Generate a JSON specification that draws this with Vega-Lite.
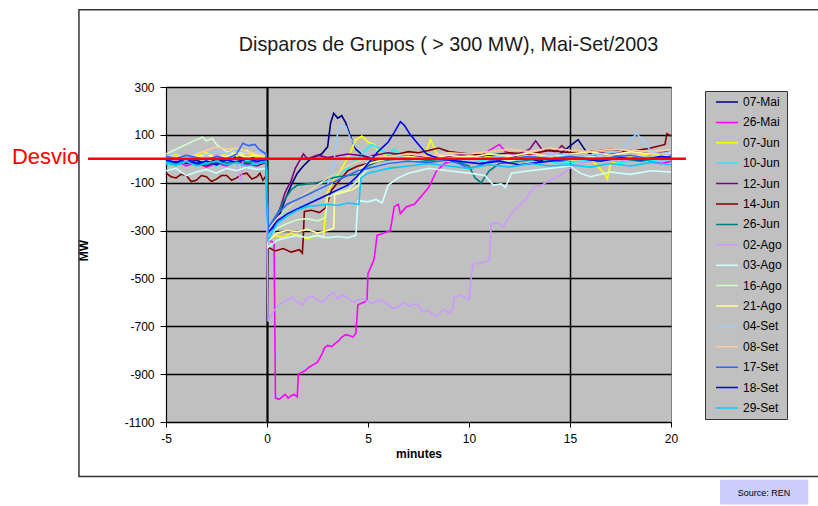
{
"$schema":"https://vega.github.io/schema/vega-lite/v6.json",
"width":505,"height":335,
"autosize":{"type":"none"},
"padding":{"left":166,"top":87,"right":147,"bottom":84},
"background":"white",
"config":{"font":"Liberation Sans","view":{"fill":"#C0C0C0","stroke":"#808080"}},
"title":{"text":"Disparos de Grupos ( > 300 MW), Mai-Set/2003","fontSize":19.8,"fontWeight":"normal","font":"Liberation Sans","color":"#1a1a1a","anchor":"middle","frame":"group","baseline":"alphabetic","offset":-62,"dx":30},
"encoding":{
"x":{"field":"t","type":"quantitative","scale":{"domain":[-5,20],"nice":false,"zero":false},"axis":{"title":"minutes","values":[-5,0,5,10,15,20],"labelExpr":"'' + datum.value","labelFontSize":12,"labelColor":"black","labelFlush":false,"labelOverlap":false,"titleFontSize":12,"titleFontWeight":"bold","titleColor":"black","domainColor":"black","domainWidth":1.2,"tickColor":"black","tickSize":5,"labelPadding":6,"titlePadding":4,"grid":true,"gridColor":"black","gridOpacity":{"condition":{"test":"datum.value === 0 || datum.value === 15","value":1},"value":0},"gridWidth":{"condition":{"test":"datum.value === 0","value":2.2},"value":1.5}}},
"y":{"field":"v","type":"quantitative","scale":{"domain":[-1100,300],"nice":false,"zero":false},"axis":{"title":"MW","values":[300,100,-100,-300,-500,-700,-900,-1100],"labelExpr":"'' + datum.value","labelFontSize":12,"labelColor":"black","labelFlush":false,"labelOverlap":false,"titleFontSize":12,"titleFontWeight":"bold","titleColor":"black","domainColor":"black","domainWidth":1.2,"tickColor":"black","tickSize":6,"labelPadding":6,"grid":true,"gridColor":"black","gridWidth":1.5,"titleX":-76,"titleY":163}}
},
"layer":[
{"data":{"values":[
{"d":"07-Mai","t":-5,"v":-10},{"d":"07-Mai","t":-4.5,"v":5},{"d":"07-Mai","t":-4,"v":-20},{"d":"07-Mai","t":-3.5,"v":-5},{"d":"07-Mai","t":-3,"v":-25},{"d":"07-Mai","t":-2.5,"v":0},{"d":"07-Mai","t":-2,"v":-15},{"d":"07-Mai","t":-1.5,"v":10},{"d":"07-Mai","t":-1,"v":-5},{"d":"07-Mai","t":-0.5,"v":15},{"d":"07-Mai","t":-0.05,"v":0},
{"d":"07-Mai","t":0.05,"v":-330},{"d":"07-Mai","t":0.3,"v":-290},{"d":"07-Mai","t":0.6,"v":-240},{"d":"07-Mai","t":0.9,"v":-170},{"d":"07-Mai","t":1.2,"v":-110},{"d":"07-Mai","t":1.5,"v":-60},{"d":"07-Mai","t":1.8,"v":-30},{"d":"07-Mai","t":2.1,"v":-5},{"d":"07-Mai","t":2.4,"v":10},{"d":"07-Mai","t":2.7,"v":20},{"d":"07-Mai","t":3.0,"v":50},{"d":"07-Mai","t":3.15,"v":150},{"d":"07-Mai","t":3.3,"v":190},{"d":"07-Mai","t":3.5,"v":170},{"d":"07-Mai","t":3.7,"v":180},{"d":"07-Mai","t":3.9,"v":150},{"d":"07-Mai","t":4.1,"v":100},{"d":"07-Mai","t":4.4,"v":40},{"d":"07-Mai","t":4.8,"v":10},{"d":"07-Mai","t":5.5,"v":-5},{"d":"07-Mai","t":6.5,"v":10},{"d":"07-Mai","t":7.5,"v":-10},{"d":"07-Mai","t":8.5,"v":5},{"d":"07-Mai","t":9.5,"v":-10},{"d":"07-Mai","t":10.5,"v":15},{"d":"07-Mai","t":11.5,"v":-5},{"d":"07-Mai","t":12.5,"v":10},{"d":"07-Mai","t":13.5,"v":-10},{"d":"07-Mai","t":14.5,"v":20},{"d":"07-Mai","t":15.1,"v":60},{"d":"07-Mai","t":15.4,"v":80},{"d":"07-Mai","t":15.8,"v":30},{"d":"07-Mai","t":16.5,"v":0},{"d":"07-Mai","t":17.5,"v":-10},{"d":"07-Mai","t":18.5,"v":10},{"d":"07-Mai","t":19.5,"v":0},{"d":"07-Mai","t":20,"v":15},
{"d":"26-Mai","t":-5,"v":-25},{"d":"26-Mai","t":-4.5,"v":-10},{"d":"26-Mai","t":-4,"v":-30},{"d":"26-Mai","t":-3.5,"v":-15},{"d":"26-Mai","t":-3,"v":-35},{"d":"26-Mai","t":-2.5,"v":-20},{"d":"26-Mai","t":-2,"v":-30},{"d":"26-Mai","t":-1.5,"v":-10},{"d":"26-Mai","t":-1,"v":-25},{"d":"26-Mai","t":-0.5,"v":-15},{"d":"26-Mai","t":-0.05,"v":-20},
{"d":"26-Mai","t":0.05,"v":-340},{"d":"26-Mai","t":0.35,"v":-350},{"d":"26-Mai","t":0.42,"v":-1000},{"d":"26-Mai","t":0.6,"v":-1005},{"d":"26-Mai","t":0.75,"v":-995},{"d":"26-Mai","t":0.9,"v":-985},{"d":"26-Mai","t":1.05,"v":-1000},{"d":"26-Mai","t":1.2,"v":-990},{"d":"26-Mai","t":1.35,"v":-985},{"d":"26-Mai","t":1.5,"v":-995},{"d":"26-Mai","t":1.55,"v":-900},{"d":"26-Mai","t":1.9,"v":-885},{"d":"26-Mai","t":2.1,"v":-870},{"d":"26-Mai","t":2.3,"v":-860},{"d":"26-Mai","t":2.5,"v":-850},{"d":"26-Mai","t":2.7,"v":-820},{"d":"26-Mai","t":2.85,"v":-790},{"d":"26-Mai","t":3.0,"v":-780},{"d":"26-Mai","t":3.2,"v":-785},{"d":"26-Mai","t":3.4,"v":-770},{"d":"26-Mai","t":3.55,"v":-760},{"d":"26-Mai","t":3.7,"v":-745},{"d":"26-Mai","t":3.9,"v":-735},{"d":"26-Mai","t":4.1,"v":-740},{"d":"26-Mai","t":4.25,"v":-745},{"d":"26-Mai","t":4.4,"v":-730},{"d":"26-Mai","t":4.5,"v":-610},{"d":"26-Mai","t":4.8,"v":-600},{"d":"26-Mai","t":4.95,"v":-590},{"d":"26-Mai","t":5.0,"v":-480},{"d":"26-Mai","t":5.3,"v":-420},{"d":"26-Mai","t":5.45,"v":-320},{"d":"26-Mai","t":5.8,"v":-310},{"d":"26-Mai","t":6.1,"v":-300},{"d":"26-Mai","t":6.3,"v":-200},{"d":"26-Mai","t":6.5,"v":-190},{"d":"26-Mai","t":6.6,"v":-230},{"d":"26-Mai","t":6.9,"v":-200},{"d":"26-Mai","t":7.3,"v":-190},{"d":"26-Mai","t":7.7,"v":-150},{"d":"26-Mai","t":8.0,"v":-120},{"d":"26-Mai","t":8.4,"v":-50},{"d":"26-Mai","t":8.8,"v":-20},{"d":"26-Mai","t":9.5,"v":0},{"d":"26-Mai","t":10.5,"v":10},{"d":"26-Mai","t":11.5,"v":60},{"d":"26-Mai","t":11.8,"v":30},{"d":"26-Mai","t":12.5,"v":10},{"d":"26-Mai","t":13.5,"v":20},{"d":"26-Mai","t":14.5,"v":0},{"d":"26-Mai","t":15.5,"v":10},{"d":"26-Mai","t":16.5,"v":20},{"d":"26-Mai","t":17.5,"v":10},{"d":"26-Mai","t":18.5,"v":0},{"d":"26-Mai","t":19.5,"v":-20},{"d":"26-Mai","t":20,"v":-10},
{"d":"07-Jun","t":-5,"v":10},{"d":"07-Jun","t":-4.5,"v":20},{"d":"07-Jun","t":-4,"v":0},{"d":"07-Jun","t":-3.5,"v":15},{"d":"07-Jun","t":-3,"v":25},{"d":"07-Jun","t":-2.5,"v":5},{"d":"07-Jun","t":-2,"v":20},{"d":"07-Jun","t":-1.7,"v":40},{"d":"07-Jun","t":-1.5,"v":10},{"d":"07-Jun","t":-1,"v":25},{"d":"07-Jun","t":-0.5,"v":10},{"d":"07-Jun","t":-0.05,"v":5},
{"d":"07-Jun","t":0.05,"v":-340},{"d":"07-Jun","t":0.4,"v":-320},{"d":"07-Jun","t":0.8,"v":-330},{"d":"07-Jun","t":1.2,"v":-310},{"d":"07-Jun","t":1.6,"v":-325},{"d":"07-Jun","t":2.0,"v":-335},{"d":"07-Jun","t":2.4,"v":-320},{"d":"07-Jun","t":2.8,"v":-330},{"d":"07-Jun","t":2.95,"v":-150},{"d":"07-Jun","t":3.3,"v":-90},{"d":"07-Jun","t":3.7,"v":-40},{"d":"07-Jun","t":4.1,"v":20},{"d":"07-Jun","t":4.4,"v":80},{"d":"07-Jun","t":4.7,"v":95},{"d":"07-Jun","t":5.0,"v":70},{"d":"07-Jun","t":5.3,"v":60},{"d":"07-Jun","t":5.6,"v":20},{"d":"07-Jun","t":6.2,"v":10},{"d":"07-Jun","t":7.0,"v":0},{"d":"07-Jun","t":7.8,"v":10},{"d":"07-Jun","t":8.1,"v":80},{"d":"07-Jun","t":8.4,"v":20},{"d":"07-Jun","t":9,"v":5},{"d":"07-Jun","t":10,"v":-5},{"d":"07-Jun","t":11,"v":10},{"d":"07-Jun","t":12,"v":0},{"d":"07-Jun","t":13,"v":15},{"d":"07-Jun","t":14,"v":5},{"d":"07-Jun","t":15,"v":-5},{"d":"07-Jun","t":16,"v":0},{"d":"07-Jun","t":16.7,"v":-60},{"d":"07-Jun","t":16.85,"v":-85},{"d":"07-Jun","t":17,"v":-20},{"d":"07-Jun","t":18,"v":10},{"d":"07-Jun","t":19,"v":20},{"d":"07-Jun","t":20,"v":10},
{"d":"10-Jun","t":-5,"v":-20},{"d":"10-Jun","t":-4.5,"v":-30},{"d":"10-Jun","t":-4,"v":-10},{"d":"10-Jun","t":-3.5,"v":-25},{"d":"10-Jun","t":-3,"v":-15},{"d":"10-Jun","t":-2.5,"v":-30},{"d":"10-Jun","t":-2,"v":-10},{"d":"10-Jun","t":-1.5,"v":-20},{"d":"10-Jun","t":-1,"v":-5},{"d":"10-Jun","t":-0.5,"v":-25},{"d":"10-Jun","t":-0.05,"v":-15},
{"d":"10-Jun","t":0.05,"v":-300},{"d":"10-Jun","t":0.5,"v":-250},{"d":"10-Jun","t":1.0,"v":-210},{"d":"10-Jun","t":1.5,"v":-170},{"d":"10-Jun","t":2.0,"v":-140},{"d":"10-Jun","t":2.5,"v":-110},{"d":"10-Jun","t":3.0,"v":-90},{"d":"10-Jun","t":3.5,"v":-60},{"d":"10-Jun","t":4.0,"v":-40},{"d":"10-Jun","t":4.5,"v":0},{"d":"10-Jun","t":4.8,"v":30},{"d":"10-Jun","t":5.2,"v":60},{"d":"10-Jun","t":5.6,"v":40},{"d":"10-Jun","t":6.0,"v":20},{"d":"10-Jun","t":6.3,"v":40},{"d":"10-Jun","t":6.7,"v":10},{"d":"10-Jun","t":7.5,"v":-10},{"d":"10-Jun","t":8.5,"v":0},{"d":"10-Jun","t":9.5,"v":-20},{"d":"10-Jun","t":10.5,"v":-10},{"d":"10-Jun","t":11.5,"v":10},{"d":"10-Jun","t":12.5,"v":-10},{"d":"10-Jun","t":13.5,"v":0},{"d":"10-Jun","t":14.5,"v":-20},{"d":"10-Jun","t":15.5,"v":-10},{"d":"10-Jun","t":16.5,"v":0},{"d":"10-Jun","t":17.5,"v":-15},{"d":"10-Jun","t":18.5,"v":-5},{"d":"10-Jun","t":19.5,"v":-10},{"d":"10-Jun","t":20,"v":0},
{"d":"12-Jun","t":-5,"v":-15},{"d":"12-Jun","t":-4.5,"v":-25},{"d":"12-Jun","t":-4,"v":-10},{"d":"12-Jun","t":-3.5,"v":-20},{"d":"12-Jun","t":-3,"v":-30},{"d":"12-Jun","t":-2.5,"v":-15},{"d":"12-Jun","t":-2,"v":-25},{"d":"12-Jun","t":-1.5,"v":-10},{"d":"12-Jun","t":-1,"v":-20},{"d":"12-Jun","t":-0.5,"v":-30},{"d":"12-Jun","t":-0.05,"v":-15},
{"d":"12-Jun","t":0.05,"v":-340},{"d":"12-Jun","t":0.3,"v":-280},{"d":"12-Jun","t":0.6,"v":-220},{"d":"12-Jun","t":0.9,"v":-140},{"d":"12-Jun","t":1.2,"v":-90},{"d":"12-Jun","t":1.4,"v":-40},{"d":"12-Jun","t":1.6,"v":-10},{"d":"12-Jun","t":1.8,"v":20},{"d":"12-Jun","t":2.0,"v":0},{"d":"12-Jun","t":2.5,"v":15},{"d":"12-Jun","t":3.0,"v":5},{"d":"12-Jun","t":4,"v":20},{"d":"12-Jun","t":5,"v":10},{"d":"12-Jun","t":6,"v":25},{"d":"12-Jun","t":7,"v":15},{"d":"12-Jun","t":8,"v":5},{"d":"12-Jun","t":9,"v":10},{"d":"12-Jun","t":10,"v":20},{"d":"12-Jun","t":11,"v":15},{"d":"12-Jun","t":12,"v":5},{"d":"12-Jun","t":13,"v":40},{"d":"12-Jun","t":13.3,"v":75},{"d":"12-Jun","t":13.6,"v":40},{"d":"12-Jun","t":14.3,"v":30},{"d":"12-Jun","t":14.6,"v":55},{"d":"12-Jun","t":15,"v":20},{"d":"12-Jun","t":16,"v":30},{"d":"12-Jun","t":17,"v":20},{"d":"12-Jun","t":18,"v":35},{"d":"12-Jun","t":19,"v":20},{"d":"12-Jun","t":20,"v":30},
{"d":"14-Jun","t":-5,"v":-60},{"d":"14-Jun","t":-4.75,"v":-75},{"d":"14-Jun","t":-4.5,"v":-80},{"d":"14-Jun","t":-4.25,"v":-65},{"d":"14-Jun","t":-4,"v":-70},{"d":"14-Jun","t":-3.75,"v":-95},{"d":"14-Jun","t":-3.5,"v":-90},{"d":"14-Jun","t":-3.25,"v":-70},{"d":"14-Jun","t":-3,"v":-75},{"d":"14-Jun","t":-2.75,"v":-95},{"d":"14-Jun","t":-2.5,"v":-85},{"d":"14-Jun","t":-2.25,"v":-70},{"d":"14-Jun","t":-2,"v":-70},{"d":"14-Jun","t":-1.75,"v":-90},{"d":"14-Jun","t":-1.5,"v":-80},{"d":"14-Jun","t":-1.25,"v":-65},{"d":"14-Jun","t":-1,"v":-60},{"d":"14-Jun","t":-0.75,"v":-85},{"d":"14-Jun","t":-0.5,"v":-75},{"d":"14-Jun","t":-0.35,"v":-60},{"d":"14-Jun","t":-0.2,"v":-90},{"d":"14-Jun","t":-0.05,"v":-70},
{"d":"14-Jun","t":0.05,"v":-370},{"d":"14-Jun","t":0.4,"v":-385},{"d":"14-Jun","t":0.8,"v":-375},{"d":"14-Jun","t":1.2,"v":-390},{"d":"14-Jun","t":1.6,"v":-380},{"d":"14-Jun","t":1.75,"v":-395},{"d":"14-Jun","t":1.8,"v":-320},{"d":"14-Jun","t":1.85,"v":-220},{"d":"14-Jun","t":2.2,"v":-215},{"d":"14-Jun","t":2.6,"v":-225},{"d":"14-Jun","t":2.9,"v":-205},{"d":"14-Jun","t":3.2,"v":-130},{"d":"14-Jun","t":3.6,"v":-90},{"d":"14-Jun","t":4.0,"v":-50},{"d":"14-Jun","t":4.5,"v":-30},{"d":"14-Jun","t":5,"v":-20},{"d":"14-Jun","t":5.5,"v":0},{"d":"14-Jun","t":6,"v":10},{"d":"14-Jun","t":6.5,"v":20},{"d":"14-Jun","t":7,"v":30},{"d":"14-Jun","t":7.5,"v":25},{"d":"14-Jun","t":8,"v":35},{"d":"14-Jun","t":8.5,"v":45},{"d":"14-Jun","t":9,"v":30},{"d":"14-Jun","t":10,"v":20},{"d":"14-Jun","t":11,"v":15},{"d":"14-Jun","t":12,"v":25},{"d":"14-Jun","t":13,"v":20},{"d":"14-Jun","t":14,"v":35},{"d":"14-Jun","t":15,"v":25},{"d":"14-Jun","t":16,"v":30},{"d":"14-Jun","t":17,"v":40},{"d":"14-Jun","t":18,"v":30},{"d":"14-Jun","t":19,"v":45},{"d":"14-Jun","t":19.7,"v":60},{"d":"14-Jun","t":19.8,"v":105},{"d":"14-Jun","t":20,"v":95},
{"d":"26-Jun","t":-5,"v":-10},{"d":"26-Jun","t":-4.5,"v":-20},{"d":"26-Jun","t":-4,"v":-5},{"d":"26-Jun","t":-3.5,"v":-15},{"d":"26-Jun","t":-3,"v":-25},{"d":"26-Jun","t":-2.5,"v":-10},{"d":"26-Jun","t":-2,"v":-20},{"d":"26-Jun","t":-1.5,"v":-5},{"d":"26-Jun","t":-1,"v":-15},{"d":"26-Jun","t":-0.5,"v":-10},{"d":"26-Jun","t":-0.05,"v":-20},
{"d":"26-Jun","t":0.05,"v":-330},{"d":"26-Jun","t":0.4,"v":-250},{"d":"26-Jun","t":0.8,"v":-180},{"d":"26-Jun","t":1.2,"v":-130},{"d":"26-Jun","t":1.5,"v":-110},{"d":"26-Jun","t":2.0,"v":-105},{"d":"26-Jun","t":2.5,"v":-100},{"d":"26-Jun","t":3.0,"v":-85},{"d":"26-Jun","t":3.5,"v":-75},{"d":"26-Jun","t":4.0,"v":-70},{"d":"26-Jun","t":4.5,"v":-65},{"d":"26-Jun","t":5.0,"v":-30},{"d":"26-Jun","t":5.5,"v":-10},{"d":"26-Jun","t":6.5,"v":0},{"d":"26-Jun","t":7.5,"v":-10},{"d":"26-Jun","t":8.5,"v":-5},{"d":"26-Jun","t":9.5,"v":-15},{"d":"26-Jun","t":10.0,"v":-30},{"d":"26-Jun","t":10.3,"v":-80},{"d":"26-Jun","t":10.6,"v":-100},{"d":"26-Jun","t":11.0,"v":-50},{"d":"26-Jun","t":11.5,"v":-20},{"d":"26-Jun","t":12.5,"v":-10},{"d":"26-Jun","t":13.5,"v":0},{"d":"26-Jun","t":14.5,"v":-10},{"d":"26-Jun","t":15.5,"v":5},{"d":"26-Jun","t":16.5,"v":-5},{"d":"26-Jun","t":17.5,"v":0},{"d":"26-Jun","t":18.5,"v":-10},{"d":"26-Jun","t":19.5,"v":5},{"d":"26-Jun","t":20,"v":0},
{"d":"02-Ago","t":-5,"v":0},{"d":"02-Ago","t":-4.5,"v":10},{"d":"02-Ago","t":-4,"v":-10},{"d":"02-Ago","t":-3.5,"v":5},{"d":"02-Ago","t":-3,"v":-5},{"d":"02-Ago","t":-2.5,"v":15},{"d":"02-Ago","t":-2,"v":0},{"d":"02-Ago","t":-1.5,"v":-10},{"d":"02-Ago","t":-1.3,"v":-100},{"d":"02-Ago","t":-1.2,"v":-10},{"d":"02-Ago","t":-1,"v":5},{"d":"02-Ago","t":-0.5,"v":-5},{"d":"02-Ago","t":-0.05,"v":0},
{"d":"02-Ago","t":0.05,"v":-680},{"d":"02-Ago","t":0.3,"v":-640},{"d":"02-Ago","t":0.6,"v":-610},{"d":"02-Ago","t":0.8,"v":-600},{"d":"02-Ago","t":1.0,"v":-590},{"d":"02-Ago","t":1.25,"v":-580},{"d":"02-Ago","t":1.5,"v":-600},{"d":"02-Ago","t":1.75,"v":-610},{"d":"02-Ago","t":2.0,"v":-580},{"d":"02-Ago","t":2.25,"v":-575},{"d":"02-Ago","t":2.5,"v":-590},{"d":"02-Ago","t":2.75,"v":-600},{"d":"02-Ago","t":3.0,"v":-575},{"d":"02-Ago","t":3.3,"v":-560},{"d":"02-Ago","t":3.5,"v":-585},{"d":"02-Ago","t":3.75,"v":-570},{"d":"02-Ago","t":4.0,"v":-580},{"d":"02-Ago","t":4.25,"v":-600},{"d":"02-Ago","t":4.5,"v":-590},{"d":"02-Ago","t":4.75,"v":-585},{"d":"02-Ago","t":5.0,"v":-595},{"d":"02-Ago","t":5.25,"v":-605},{"d":"02-Ago","t":5.5,"v":-590},{"d":"02-Ago","t":5.75,"v":-595},{"d":"02-Ago","t":6.0,"v":-610},{"d":"02-Ago","t":6.25,"v":-625},{"d":"02-Ago","t":6.5,"v":-620},{"d":"02-Ago","t":6.75,"v":-600},{"d":"02-Ago","t":7.0,"v":-615},{"d":"02-Ago","t":7.4,"v":-605},{"d":"02-Ago","t":7.7,"v":-640},{"d":"02-Ago","t":8.0,"v":-635},{"d":"02-Ago","t":8.2,"v":-650},{"d":"02-Ago","t":8.4,"v":-660},{"d":"02-Ago","t":8.6,"v":-640},{"d":"02-Ago","t":8.8,"v":-630},{"d":"02-Ago","t":9.0,"v":-645},{"d":"02-Ago","t":9.2,"v":-630},{"d":"02-Ago","t":9.25,"v":-580},{"d":"02-Ago","t":9.6,"v":-570},{"d":"02-Ago","t":10.0,"v":-590},{"d":"02-Ago","t":10.1,"v":-500},{"d":"02-Ago","t":10.2,"v":-440},{"d":"02-Ago","t":10.6,"v":-435},{"d":"02-Ago","t":11.0,"v":-425},{"d":"02-Ago","t":11.1,"v":-270},{"d":"02-Ago","t":11.5,"v":-270},{"d":"02-Ago","t":11.7,"v":-285},{"d":"02-Ago","t":12.0,"v":-240},{"d":"02-Ago","t":12.4,"v":-200},{"d":"02-Ago","t":12.8,"v":-170},{"d":"02-Ago","t":13.2,"v":-120},{"d":"02-Ago","t":13.6,"v":-110},{"d":"02-Ago","t":14.0,"v":-90},{"d":"02-Ago","t":14.5,"v":-70},{"d":"02-Ago","t":15.0,"v":-40},{"d":"02-Ago","t":15.5,"v":-20},{"d":"02-Ago","t":16.5,"v":0},{"d":"02-Ago","t":17.5,"v":-10},{"d":"02-Ago","t":18.5,"v":5},{"d":"02-Ago","t":19.5,"v":-5},{"d":"02-Ago","t":20,"v":0},
{"d":"03-Ago","t":-5,"v":-50},{"d":"03-Ago","t":-4.5,"v":-40},{"d":"03-Ago","t":-4,"v":-70},{"d":"03-Ago","t":-3.5,"v":-55},{"d":"03-Ago","t":-3,"v":-45},{"d":"03-Ago","t":-2.5,"v":-60},{"d":"03-Ago","t":-2,"v":-40},{"d":"03-Ago","t":-1.5,"v":-50},{"d":"03-Ago","t":-1,"v":-35},{"d":"03-Ago","t":-0.5,"v":-45},{"d":"03-Ago","t":-0.05,"v":-40},
{"d":"03-Ago","t":0.05,"v":-370},{"d":"03-Ago","t":0.5,"v":-340},{"d":"03-Ago","t":1.0,"v":-330},{"d":"03-Ago","t":1.5,"v":-320},{"d":"03-Ago","t":2.0,"v":-330},{"d":"03-Ago","t":2.5,"v":-320},{"d":"03-Ago","t":3.0,"v":-330},{"d":"03-Ago","t":3.5,"v":-325},{"d":"03-Ago","t":4.0,"v":-330},{"d":"03-Ago","t":4.4,"v":-320},{"d":"03-Ago","t":4.5,"v":-175},{"d":"03-Ago","t":5.0,"v":-180},{"d":"03-Ago","t":5.4,"v":-170},{"d":"03-Ago","t":5.7,"v":-185},{"d":"03-Ago","t":6.0,"v":-110},{"d":"03-Ago","t":6.5,"v":-80},{"d":"03-Ago","t":7,"v":-60},{"d":"03-Ago","t":8,"v":-40},{"d":"03-Ago","t":9,"v":-50},{"d":"03-Ago","t":10,"v":-60},{"d":"03-Ago","t":10.8,"v":-70},{"d":"03-Ago","t":11.2,"v":-110},{"d":"03-Ago","t":11.6,"v":-105},{"d":"03-Ago","t":11.8,"v":-120},{"d":"03-Ago","t":12.1,"v":-60},{"d":"03-Ago","t":13,"v":-50},{"d":"03-Ago","t":14,"v":-40},{"d":"03-Ago","t":15,"v":-30},{"d":"03-Ago","t":15.5,"v":-60},{"d":"03-Ago","t":16,"v":-75},{"d":"03-Ago","t":17,"v":-55},{"d":"03-Ago","t":18,"v":-65},{"d":"03-Ago","t":19,"v":-50},{"d":"03-Ago","t":20,"v":-55},
{"d":"16-Ago","t":-5,"v":20},{"d":"16-Ago","t":-4.5,"v":40},{"d":"16-Ago","t":-4,"v":60},{"d":"16-Ago","t":-3.5,"v":80},{"d":"16-Ago","t":-3.2,"v":90},{"d":"16-Ago","t":-3,"v":75},{"d":"16-Ago","t":-2.7,"v":85},{"d":"16-Ago","t":-2.5,"v":60},{"d":"16-Ago","t":-2,"v":30},{"d":"16-Ago","t":-1.5,"v":20},{"d":"16-Ago","t":-1,"v":35},{"d":"16-Ago","t":-0.5,"v":15},{"d":"16-Ago","t":-0.05,"v":20},
{"d":"16-Ago","t":0.05,"v":-330},{"d":"16-Ago","t":0.5,"v":-290},{"d":"16-Ago","t":1.0,"v":-270},{"d":"16-Ago","t":1.5,"v":-255},{"d":"16-Ago","t":2.0,"v":-250},{"d":"16-Ago","t":2.5,"v":-260},{"d":"16-Ago","t":2.9,"v":-245},{"d":"16-Ago","t":3.0,"v":-160},{"d":"16-Ago","t":3.5,"v":-140},{"d":"16-Ago","t":4.0,"v":-130},{"d":"16-Ago","t":4.5,"v":-90},{"d":"16-Ago","t":5,"v":-40},{"d":"16-Ago","t":6,"v":-20},{"d":"16-Ago","t":7,"v":-10},{"d":"16-Ago","t":8,"v":0},{"d":"16-Ago","t":9,"v":-10},{"d":"16-Ago","t":10,"v":10},{"d":"16-Ago","t":11,"v":0},{"d":"16-Ago","t":12,"v":-10},{"d":"16-Ago","t":13,"v":10},{"d":"16-Ago","t":14,"v":0},{"d":"16-Ago","t":15,"v":-5},{"d":"16-Ago","t":16,"v":10},{"d":"16-Ago","t":17,"v":0},{"d":"16-Ago","t":18,"v":15},{"d":"16-Ago","t":19,"v":5},{"d":"16-Ago","t":20,"v":10},
{"d":"21-Ago","t":-5,"v":10},{"d":"21-Ago","t":-4.5,"v":0},{"d":"21-Ago","t":-4,"v":15},{"d":"21-Ago","t":-3.5,"v":5},{"d":"21-Ago","t":-3,"v":20},{"d":"21-Ago","t":-2.5,"v":0},{"d":"21-Ago","t":-2,"v":10},{"d":"21-Ago","t":-1.5,"v":25},{"d":"21-Ago","t":-1,"v":5},{"d":"21-Ago","t":-0.5,"v":15},{"d":"21-Ago","t":-0.05,"v":10},
{"d":"21-Ago","t":0.05,"v":-345},{"d":"21-Ago","t":0.5,"v":-310},{"d":"21-Ago","t":1.0,"v":-300},{"d":"21-Ago","t":1.5,"v":-305},{"d":"21-Ago","t":2.0,"v":-295},{"d":"21-Ago","t":2.5,"v":-310},{"d":"21-Ago","t":3.0,"v":-300},{"d":"21-Ago","t":3.3,"v":-290},{"d":"21-Ago","t":3.35,"v":-150},{"d":"21-Ago","t":3.8,"v":-140},{"d":"21-Ago","t":4.2,"v":-130},{"d":"21-Ago","t":4.55,"v":-110},{"d":"21-Ago","t":4.6,"v":-40},{"d":"21-Ago","t":5.0,"v":-20},{"d":"21-Ago","t":6,"v":0},{"d":"21-Ago","t":7,"v":10},{"d":"21-Ago","t":8,"v":0},{"d":"21-Ago","t":9,"v":15},{"d":"21-Ago","t":10,"v":5},{"d":"21-Ago","t":11,"v":20},{"d":"21-Ago","t":12,"v":10},{"d":"21-Ago","t":13,"v":25},{"d":"21-Ago","t":14,"v":10},{"d":"21-Ago","t":15,"v":20},{"d":"21-Ago","t":16,"v":30},{"d":"21-Ago","t":17,"v":15},{"d":"21-Ago","t":18,"v":30},{"d":"21-Ago","t":19,"v":20},{"d":"21-Ago","t":20,"v":25},
{"d":"04-Set","t":-5,"v":10},{"d":"04-Set","t":-4.5,"v":25},{"d":"04-Set","t":-4,"v":5},{"d":"04-Set","t":-3.5,"v":30},{"d":"04-Set","t":-3,"v":15},{"d":"04-Set","t":-2.5,"v":35},{"d":"04-Set","t":-2,"v":20},{"d":"04-Set","t":-1.5,"v":40},{"d":"04-Set","t":-1,"v":25},{"d":"04-Set","t":-0.5,"v":30},{"d":"04-Set","t":-0.05,"v":15},
{"d":"04-Set","t":0.05,"v":-320},{"d":"04-Set","t":0.5,"v":-280},{"d":"04-Set","t":1.0,"v":-240},{"d":"04-Set","t":1.5,"v":-210},{"d":"04-Set","t":2.0,"v":-180},{"d":"04-Set","t":2.5,"v":-150},{"d":"04-Set","t":3.0,"v":-110},{"d":"04-Set","t":3.3,"v":-20},{"d":"04-Set","t":3.5,"v":110},{"d":"04-Set","t":3.7,"v":140},{"d":"04-Set","t":3.9,"v":135},{"d":"04-Set","t":4.1,"v":90},{"d":"04-Set","t":4.4,"v":50},{"d":"04-Set","t":4.8,"v":20},{"d":"04-Set","t":5.5,"v":0},{"d":"04-Set","t":6.5,"v":10},{"d":"04-Set","t":7.5,"v":-5},{"d":"04-Set","t":8.5,"v":5},{"d":"04-Set","t":9.5,"v":-10},{"d":"04-Set","t":10.5,"v":0},{"d":"04-Set","t":11.5,"v":10},{"d":"04-Set","t":12.5,"v":-5},{"d":"04-Set","t":13.5,"v":5},{"d":"04-Set","t":14.5,"v":20},{"d":"04-Set","t":15.5,"v":10},{"d":"04-Set","t":16.5,"v":20},{"d":"04-Set","t":17.5,"v":30},{"d":"04-Set","t":18.0,"v":80},{"d":"04-Set","t":18.3,"v":105},{"d":"04-Set","t":18.7,"v":70},{"d":"04-Set","t":19.0,"v":30},{"d":"04-Set","t":19.5,"v":20},{"d":"04-Set","t":20,"v":30},
{"d":"08-Set","t":-5,"v":0},{"d":"08-Set","t":-4.5,"v":10},{"d":"08-Set","t":-4,"v":-5},{"d":"08-Set","t":-3.5,"v":20},{"d":"08-Set","t":-3,"v":35},{"d":"08-Set","t":-2.5,"v":50},{"d":"08-Set","t":-2,"v":40},{"d":"08-Set","t":-1.5,"v":45},{"d":"08-Set","t":-1,"v":30},{"d":"08-Set","t":-0.5,"v":20},{"d":"08-Set","t":-0.05,"v":10},
{"d":"08-Set","t":0.05,"v":-300},{"d":"08-Set","t":0.5,"v":-250},{"d":"08-Set","t":1.0,"v":-210},{"d":"08-Set","t":1.5,"v":-170},{"d":"08-Set","t":2.0,"v":-140},{"d":"08-Set","t":2.5,"v":-110},{"d":"08-Set","t":3.0,"v":-80},{"d":"08-Set","t":3.5,"v":-60},{"d":"08-Set","t":4.0,"v":-30},{"d":"08-Set","t":4.5,"v":-10},{"d":"08-Set","t":5.0,"v":0},{"d":"08-Set","t":6,"v":10},{"d":"08-Set","t":7,"v":20},{"d":"08-Set","t":8,"v":10},{"d":"08-Set","t":9,"v":25},{"d":"08-Set","t":10,"v":20},{"d":"08-Set","t":11,"v":30},{"d":"08-Set","t":12,"v":40},{"d":"08-Set","t":13,"v":30},{"d":"08-Set","t":14,"v":45},{"d":"08-Set","t":15,"v":35},{"d":"08-Set","t":16,"v":30},{"d":"08-Set","t":17,"v":40},{"d":"08-Set","t":18,"v":35},{"d":"08-Set","t":19,"v":30},{"d":"08-Set","t":20,"v":40},
{"d":"17-Set","t":-5,"v":10},{"d":"17-Set","t":-4.5,"v":0},{"d":"17-Set","t":-4,"v":15},{"d":"17-Set","t":-3.5,"v":5},{"d":"17-Set","t":-3,"v":-5},{"d":"17-Set","t":-2.5,"v":10},{"d":"17-Set","t":-2,"v":0},{"d":"17-Set","t":-1.5,"v":20},{"d":"17-Set","t":-1.2,"v":65},{"d":"17-Set","t":-0.9,"v":55},{"d":"17-Set","t":-0.6,"v":60},{"d":"17-Set","t":-0.4,"v":40},{"d":"17-Set","t":-0.05,"v":20},
{"d":"17-Set","t":0.05,"v":-290},{"d":"17-Set","t":0.5,"v":-230},{"d":"17-Set","t":1.0,"v":-190},{"d":"17-Set","t":1.5,"v":-170},{"d":"17-Set","t":2.0,"v":-150},{"d":"17-Set","t":2.5,"v":-130},{"d":"17-Set","t":3.0,"v":-110},{"d":"17-Set","t":3.5,"v":-90},{"d":"17-Set","t":4.0,"v":-70},{"d":"17-Set","t":4.5,"v":-50},{"d":"17-Set","t":5.0,"v":-40},{"d":"17-Set","t":5.5,"v":-30},{"d":"17-Set","t":6,"v":-20},{"d":"17-Set","t":7,"v":-10},{"d":"17-Set","t":8,"v":-15},{"d":"17-Set","t":9,"v":-5},{"d":"17-Set","t":9.5,"v":-20},{"d":"17-Set","t":10,"v":-40},{"d":"17-Set","t":10.5,"v":-30},{"d":"17-Set","t":11,"v":-10},{"d":"17-Set","t":12,"v":0},{"d":"17-Set","t":13,"v":10},{"d":"17-Set","t":14,"v":0},{"d":"17-Set","t":15,"v":10},{"d":"17-Set","t":16,"v":0},{"d":"17-Set","t":17,"v":5},{"d":"17-Set","t":18,"v":15},{"d":"17-Set","t":19,"v":0},{"d":"17-Set","t":20,"v":10},
{"d":"18-Set","t":-5,"v":-5},{"d":"18-Set","t":-4.5,"v":-15},{"d":"18-Set","t":-4,"v":0},{"d":"18-Set","t":-3.5,"v":-20},{"d":"18-Set","t":-3,"v":-10},{"d":"18-Set","t":-2.5,"v":-25},{"d":"18-Set","t":-2,"v":-5},{"d":"18-Set","t":-1.5,"v":-15},{"d":"18-Set","t":-1,"v":0},{"d":"18-Set","t":-0.5,"v":-10},{"d":"18-Set","t":-0.05,"v":-5},
{"d":"18-Set","t":0.05,"v":-310},{"d":"18-Set","t":0.5,"v":-260},{"d":"18-Set","t":1.0,"v":-230},{"d":"18-Set","t":1.5,"v":-210},{"d":"18-Set","t":2.0,"v":-190},{"d":"18-Set","t":2.5,"v":-170},{"d":"18-Set","t":3.0,"v":-150},{"d":"18-Set","t":3.5,"v":-130},{"d":"18-Set","t":4.0,"v":-110},{"d":"18-Set","t":4.5,"v":-70},{"d":"18-Set","t":5.0,"v":-20},{"d":"18-Set","t":5.5,"v":30},{"d":"18-Set","t":6.0,"v":70},{"d":"18-Set","t":6.3,"v":110},{"d":"18-Set","t":6.6,"v":155},{"d":"18-Set","t":6.8,"v":140},{"d":"18-Set","t":7.1,"v":100},{"d":"18-Set","t":7.5,"v":60},{"d":"18-Set","t":7.9,"v":20},{"d":"18-Set","t":8.5,"v":0},{"d":"18-Set","t":9.5,"v":-10},{"d":"18-Set","t":10.5,"v":-20},{"d":"18-Set","t":11.5,"v":-10},{"d":"18-Set","t":12.5,"v":-25},{"d":"18-Set","t":13.5,"v":-15},{"d":"18-Set","t":14.5,"v":-5},{"d":"18-Set","t":15.5,"v":0},{"d":"18-Set","t":16.5,"v":-10},{"d":"18-Set","t":17.5,"v":5},{"d":"18-Set","t":18.5,"v":-5},{"d":"18-Set","t":19.5,"v":10},{"d":"18-Set","t":20,"v":5},
{"d":"29-Set","t":-5,"v":-15},{"d":"29-Set","t":-4.5,"v":-25},{"d":"29-Set","t":-4,"v":-10},{"d":"29-Set","t":-3.5,"v":-30},{"d":"29-Set","t":-3,"v":-20},{"d":"29-Set","t":-2.5,"v":-10},{"d":"29-Set","t":-2,"v":-25},{"d":"29-Set","t":-1.5,"v":-15},{"d":"29-Set","t":-1,"v":-30},{"d":"29-Set","t":-0.5,"v":-20},{"d":"29-Set","t":-0.05,"v":-10},
{"d":"29-Set","t":0.05,"v":-340},{"d":"29-Set","t":0.5,"v":-270},{"d":"29-Set","t":1.0,"v":-240},{"d":"29-Set","t":1.5,"v":-215},{"d":"29-Set","t":2.0,"v":-200},{"d":"29-Set","t":2.5,"v":-195},{"d":"29-Set","t":3.0,"v":-190},{"d":"29-Set","t":3.5,"v":-195},{"d":"29-Set","t":4.0,"v":-185},{"d":"29-Set","t":4.55,"v":-190},{"d":"29-Set","t":4.65,"v":-80},{"d":"29-Set","t":5.0,"v":-60},{"d":"29-Set","t":5.5,"v":-50},{"d":"29-Set","t":6,"v":-40},{"d":"29-Set","t":7,"v":-30},{"d":"29-Set","t":8,"v":-20},{"d":"29-Set","t":9,"v":-30},{"d":"29-Set","t":10,"v":-40},{"d":"29-Set","t":11,"v":-25},{"d":"29-Set","t":12,"v":-35},{"d":"29-Set","t":13,"v":-20},{"d":"29-Set","t":14,"v":-30},{"d":"29-Set","t":15,"v":-25},{"d":"29-Set","t":16,"v":-35},{"d":"29-Set","t":17,"v":-20},{"d":"29-Set","t":18,"v":-30},{"d":"29-Set","t":19,"v":-15},{"d":"29-Set","t":20,"v":-25}
]},
"mark":{"type":"line","strokeWidth":1.6},
"encoding":{"color":{"field":"d","type":"nominal","scale":{"domain":["07-Mai","26-Mai","07-Jun","10-Jun","12-Jun","14-Jun","26-Jun","02-Ago","03-Ago","16-Ago","21-Ago","04-Set","08-Set","17-Set","18-Set","29-Set"],"range":["#000080","#FF00FF","#FFFF00","#00FFFF","#800080","#800000","#008080","#CC99FF","#CCFFFF","#CCFFCC","#FFFF99","#99CCFF","#FFCC99","#3366FF","#0000FF","#00CCFF"]},
"legend":{"title":null,"orient":"none","legendX":539,"legendY":4,"fillColor":"#C0C0C0","strokeColor":"#333333","padding":5,"symbolType":"stroke","symbolSize":484,"symbolStrokeWidth":1.5,"symbolOffset":5,"clipHeight":12,"rowPadding":8.4,"labelFontSize":12,"labelFont":"Liberation Sans","labelColor":"black","labelOffset":4}}}
},
{"data":{"values":[{"t":-8.86,"t2":20.74,"v":0}]},"mark":{"type":"rule","color":"#FF0000","strokeWidth":2.5},"encoding":{"x2":{"field":"t2"}}},
{"data":{"values":[{"t":-9.3,"v":0,"label":"Desvio"}]},"mark":{"type":"text","align":"right","baseline":"middle","fontSize":22,"color":"#FF0000","dy":-2},"encoding":{"text":{"field":"label"}}},
{"data":{"values":[{"t":-9.31,"t2":27.4,"v":623,"v2":-1328}]},"mark":{"type":"rect","filled":false,"stroke":"#333333","strokeWidth":1.5},"encoding":{"x2":{"field":"t2"},"y2":{"field":"v2"}}},
{"data":{"values":[{"t":22.43,"t2":26.8,"v":-1341,"v2":-1445}]},"mark":{"type":"rect","fill":"#CCCCFF"},"encoding":{"x2":{"field":"t2"},"y2":{"field":"v2"}}},
{"data":{"values":[{"t":24.6,"v":-1395,"label":"Source: REN"}]},"mark":{"type":"text","align":"center","baseline":"middle","fontSize":9,"color":"black"},"encoding":{"text":{"field":"label"}}}
]
}
